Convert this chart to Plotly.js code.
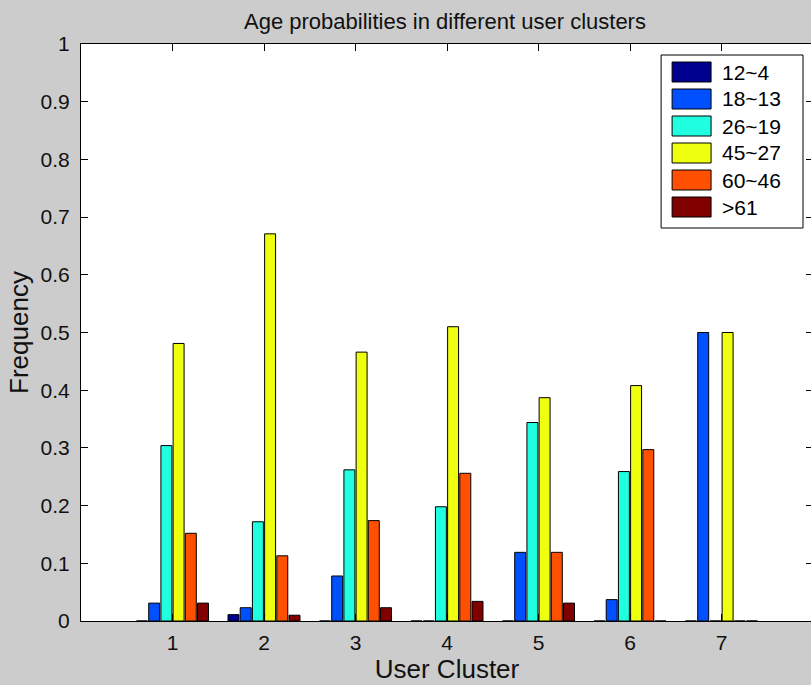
<!DOCTYPE html>
<html>
<head>
<meta charset="utf-8">
<script src="https://cdn.plot.ly/plotly-3.0.1.min.js"></script>
<style>
html,body{margin:0;padding:0;overflow:hidden;background:#cccccc;}
#chart{width:816px;height:685px;}
</style>
</head>
<body>
<div id="chart"></div>
<script>
const clusters = [1, 2, 3, 4, 5, 6, 7];
const seriesNames = ["12~4", "18~13", "26~19", "45~27", "60~46", ">61"];
const seriesColors = ["#00008f", "#0050ff", "#20ffdf", "#efff10", "#ff4f00", "#800000"];
const age12_4  = [0,     0.011, 0,     0,     0,     0,     0];
const age18_13 = [0.031, 0.023, 0.078, 0,     0.119, 0.037, 0.5];
const age26_19 = [0.304, 0.172, 0.262, 0.198, 0.344, 0.259, 0];
const age45_27 = [0.481, 0.671, 0.466, 0.510, 0.387, 0.408, 0.5];
const age60_46 = [0.152, 0.113, 0.174, 0.256, 0.119, 0.297, 0];
const age61    = [0.031, 0.010, 0.023, 0.034, 0.031, 0,     0];
const seriesValues = [age12_4, age18_13, age26_19, age45_27, age60_46, age61];
const yTicks = [0, 0.1, 0.2, 0.3, 0.4, 0.5, 0.6, 0.7, 0.8, 0.9, 1];
const yTickText = ["0", "0.1", "0.2", "0.3", "0.4", "0.5", "0.6", "0.7", "0.8", "0.9", "1"];

const FONT = "Liberation Sans, Arial, sans-serif";

const traces = seriesNames.map((n, i) => ({
  type: "bar",
  name: n,
  x: clusters,
  y: seriesValues[i],
  marker: {color: seriesColors[i], line: {color: "#000000", width: 1}},
  showlegend: false,
  hoverinfo: "x+y+name"
}));

// custom legend (MATLAB style) in paper coords
const shapes = [];
const annotations = [];
const W = 816, H = 685, ml = 80.5, mr = 3, mt = 44, mb = 64;
const pw = W - ml - mr, ph = H - mt - mb;
function px(x){ return (x - ml) / pw; }
function py(y){ return 1 - (y - mt) / ph; }
shapes.push({type: "rect", xref: "paper", yref: "paper",
  x0: px(661), x1: px(803), y0: py(228), y1: py(55),
  line: {color: "#000000", width: 1}, fillcolor: "#ffffff", layer: "above"});
seriesNames.forEach((n, i) => {
  const cy = 72 + i * 27;
  shapes.push({type: "rect", xref: "paper", yref: "paper",
    x0: px(672), x1: px(711), y0: py(cy + 10), y1: py(cy - 10),
    line: {color: "#000000", width: 1}, fillcolor: seriesColors[i], layer: "above"});
  annotations.push({xref: "paper", yref: "paper", x: px(720), y: py(cy),
    xanchor: "left", yanchor: "middle", text: n, showarrow: false,
    font: {family: FONT, size: 21, color: "#000000"}});
});

const layout = {
  width: W, height: H,
  paper_bgcolor: "#cccccc",
  plot_bgcolor: "#ffffff",
  margin: {l: ml, r: mr, t: mt, b: mb, pad: 0},
  barmode: "group",
  bargap: 0.2,
  bargroupgap: 0.1,
  title: {text: "Age probabilities in different user clusters",
    font: {family: FONT, size: 22, color: "#111111"},
    x: 445 / W, xanchor: "center", y: 1 - 21 / H, yanchor: "middle"},
  xaxis: {
    range: [0, 8], tickvals: clusters, ticktext: clusters.map(String),
    ticks: "inside", ticklen: 7, tickcolor: "#000000", tickwidth: 1,
    showline: true, linecolor: "#000000", linewidth: 1, mirror: "ticks",
    showgrid: false, zeroline: false,
    tickfont: {family: FONT, size: 21, color: "#111111"},
    ticklabelstandoff: 3,
    title: {text: "User Cluster", font: {family: FONT, size: 26, color: "#111111"}, standoff: 6}
  },
  yaxis: {
    range: [0, 1], tickvals: yTicks, ticktext: yTickText,
    ticks: "inside", ticklen: 7, tickcolor: "#000000", tickwidth: 1,
    showline: true, linecolor: "#000000", linewidth: 1, mirror: "ticks",
    showgrid: false, zeroline: false,
    tickfont: {family: FONT, size: 21, color: "#111111"},
    ticklabelstandoff: 6,
    title: {text: "Frequency", font: {family: FONT, size: 26, color: "#111111"}, standoff: 4}
  },
  shapes: shapes,
  annotations: annotations,
  showlegend: false
};

Plotly.newPlot("chart", traces, layout, {displayModeBar: false, staticPlot: true});
</script>
</body>
</html>
